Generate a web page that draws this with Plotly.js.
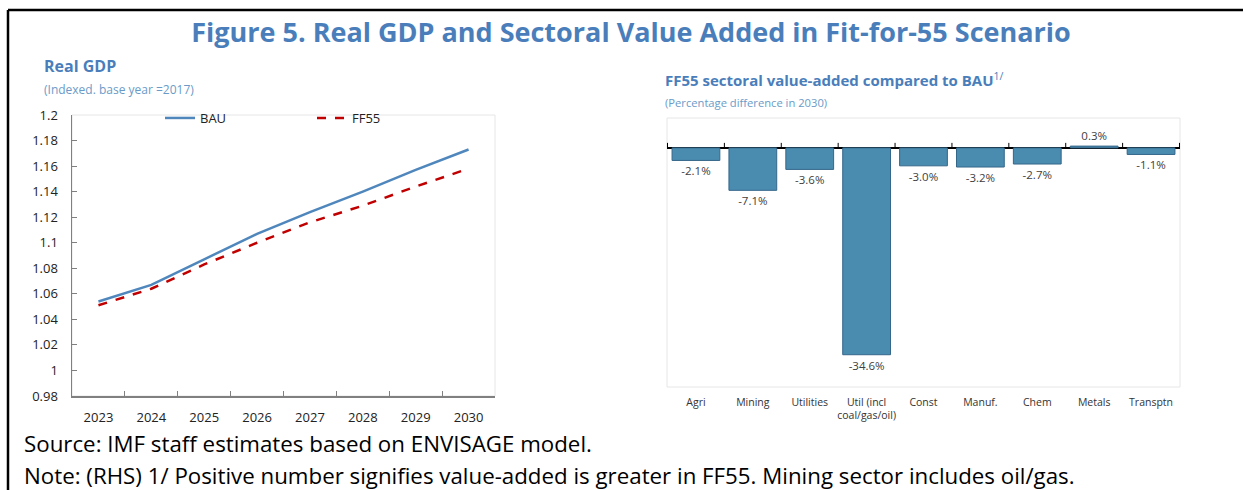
<!DOCTYPE html>
<html>
<head>
<meta charset="utf-8">
<script src="https://cdn.plot.ly/plotly-3.0.1.min.js"></script>
<style>
html,body{margin:0;padding:0;background:#fff;}
#chart{width:1243px;height:490px;}
</style>
</head>
<body>
<div id="chart"></div>
<script>
// ---- Data ----
const years = ["2023","2024","2025","2026","2027","2028","2029","2030"];
const bau  = [1.054, 1.067, 1.087, 1.107, 1.124, 1.140, 1.157, 1.173];
const ff55 = [1.051, 1.064, 1.083, 1.100, 1.116, 1.129, 1.144, 1.158];

const sectors = ["Agri","Mining","Utilities","Util (incl<br>coal/gas/oil)","Const","Manuf.","Chem","Metals","Transptn"];
const sectorDiff = [-2.1, -7.1, -3.6, -34.6, -3.0, -3.2, -2.7, 0.3, -1.1];

const leftTicks = [0.98,1,1.02,1.04,1.06,1.08,1.1,1.12,1.14,1.16,1.18,1.2];
const leftTickText = ["0.98","1","1.02","1.04","1.06","1.08","1.1","1.12","1.14","1.16","1.18","1.2"];

// ---- Styling ----
const FONT = "Open Sans, Noto Sans, DejaVu Sans, sans-serif";
const TITLE_BLUE = "#4a7ebb";
const SUB_BLUE = "#6a9bc8";
const W = 1243, H = 490;
const px = v => v / W;
const py = v => 1 - v / H;

const traces = [
  {
    x: years, y: bau, type: "scatter", mode: "lines", name: "BAU",
    line: {color: "#4f87bd", width: 2.5}, xaxis: "x", yaxis: "y", legend: "legend"
  },
  {
    x: years, y: ff55, type: "scatter", mode: "lines", name: "FF55",
    line: {color: "#c00000", width: 2.5, dash: "dash"}, xaxis: "x", yaxis: "y", legend: "legend2"
  },
  {
    x: sectors, y: sectorDiff, type: "bar", name: "diff", showlegend: false,
    marker: {color: "#4a8bb0", line: {color: "#35678a", width: 1}},
    texttemplate: "%{y:.1f}%", textposition: "outside", cliponaxis: false,
    textfont: {family: FONT, size: 11.5, color: "#404040"},
    xaxis: "x2", yaxis: "y2", width: 0.84
  }
];

const shapes = [
  // outer frame (top and left)
  {type: "line", xref: "paper", yref: "paper", x0: px(8), x1: 1.0, y0: py(10), y1: py(10), line: {color: "#000", width: 2.5}},
  {type: "line", xref: "paper", yref: "paper", x0: px(8), x1: px(8), y0: py(10), y1: 0, line: {color: "#000", width: 2.5}},
  // light plot frames
  {type: "rect", xref: "x domain", yref: "y domain", x0: 0, x1: 1, y0: 0, y1: 1, line: {color: "#e6e6e6", width: 1}, layer: "below"},
  {type: "rect", xref: "x2 domain", yref: "y2 domain", x0: 0, x1: 1, y0: 0, y1: 1, line: {color: "#e6e6e6", width: 1}, layer: "below"}
];
// tick marks on the zero line of the bar chart, at category boundaries
for (let i = 0; i <= sectors.length; i++) {
  shapes.push({type: "line", xref: "x2", yref: "y2", x0: i - 0.5, x1: i - 0.5,
    ysizemode: "pixel", yanchor: 0, y0: 0, y1: 5, line: {color: "#000", width: 1}});
}

const annotations = [
  {text: "<b>Real GDP</b>", xref: "paper", yref: "paper", x: px(42), y: py(66), xanchor: "left", yanchor: "middle",
   showarrow: false, font: {family: FONT, size: 16, color: TITLE_BLUE}},
  {text: "(Indexed. base year =2017)", xref: "paper", yref: "paper", x: px(42), y: py(90), xanchor: "left", yanchor: "middle",
   showarrow: false, font: {family: FONT, size: 12, color: SUB_BLUE}},
  {text: "<b>FF55 sectoral value-added compared to BAU</b><sup>1/</sup>", xref: "paper", yref: "paper", x: px(663), y: py(80), xanchor: "left", yanchor: "middle",
   showarrow: false, font: {family: FONT, size: 15, color: TITLE_BLUE}},
  {text: "(Percentage difference in 2030)", xref: "paper", yref: "paper", x: px(663), y: py(102), xanchor: "left", yanchor: "middle",
   showarrow: false, font: {family: FONT, size: 11.2, color: SUB_BLUE}},
  {text: "Source: IMF staff estimates based on ENVISAGE model.", xref: "paper", yref: "paper", x: px(22), y: py(443), xanchor: "left", yanchor: "middle",
   showarrow: false, font: {family: FONT, size: 22.3, color: "#000"}},
  {text: "Note: (RHS) 1/ Positive number signifies value-added is greater in FF55. Mining sector includes oil/gas.", xref: "paper", yref: "paper", x: px(22), y: py(475), xanchor: "left", yanchor: "middle",
   showarrow: false, font: {family: FONT, size: 22.3, color: "#000"}}
];

const layout = {
  width: W, height: H,
  margin: {l: 0, r: 0, t: 0, b: 0},
  paper_bgcolor: "#fff", plot_bgcolor: "#fff",
  font: {family: FONT, color: "#222"},
  title: {text: "<b>Figure 5. Real GDP and Sectoral Value Added in Fit-for-55 Scenario</b>",
    x: px(631), xanchor: "center", y: py(33), yanchor: "middle", xref: "paper", yref: "paper",
    font: {family: FONT, size: 27, color: TITLE_BLUE}},
  xaxis: {domain: [px(72), px(495)], anchor: "y", type: "category", range: [-0.5, 7.5], tickson: "boundaries",
    ticks: "inside", ticklen: 5, tickcolor: "#808080", showline: true, linecolor: "#808080", linewidth: 1.5,
    showgrid: false, zeroline: false, tickfont: {family: FONT, size: 13, color: "#222"}, ticklabelstandoff: 9,
    fixedrange: true},
  yaxis: {domain: [py(396), py(115)], anchor: "x", range: [0.98, 1.2], tickvals: leftTicks, ticktext: leftTickText,
    ticks: "inside", ticklen: 5, tickcolor: "#808080", showline: true, linecolor: "#808080", linewidth: 1.5,
    showgrid: false, zeroline: false, tickfont: {family: FONT, size: 13, color: "#222"}, ticklabelstandoff: 10,
    fixedrange: true},
  xaxis2: {domain: [px(667), px(1180)], anchor: "y2", type: "category", ticks: "", showline: false,
    showgrid: false, zeroline: false, tickfont: {family: FONT, size: 10.5, color: "#333"}, ticklabelstandoff: 7,
    fixedrange: true},
  yaxis2: {domain: [py(387), py(118)], anchor: "x2", range: [-40, 5], showticklabels: false, ticks: "",
    showgrid: false, zeroline: true, zerolinecolor: "#000", zerolinewidth: 1.5, showline: false, fixedrange: true},
  bargap: 0.16,
  legend: {x: px(160), y: py(118), xanchor: "left", yanchor: "middle", orientation: "h",
    bgcolor: "rgba(0,0,0,0)", font: {family: FONT, size: 13, color: "#222"}, itemwidth: 30},
  legend2: {x: px(312), y: py(118), xanchor: "left", yanchor: "middle", orientation: "h",
    bgcolor: "rgba(0,0,0,0)", font: {family: FONT, size: 13, color: "#222"}, itemwidth: 30},
  shapes: shapes,
  annotations: annotations
};

Plotly.newPlot("chart", traces, layout, {displayModeBar: false, staticPlot: true});
</script>
</body>
</html>
